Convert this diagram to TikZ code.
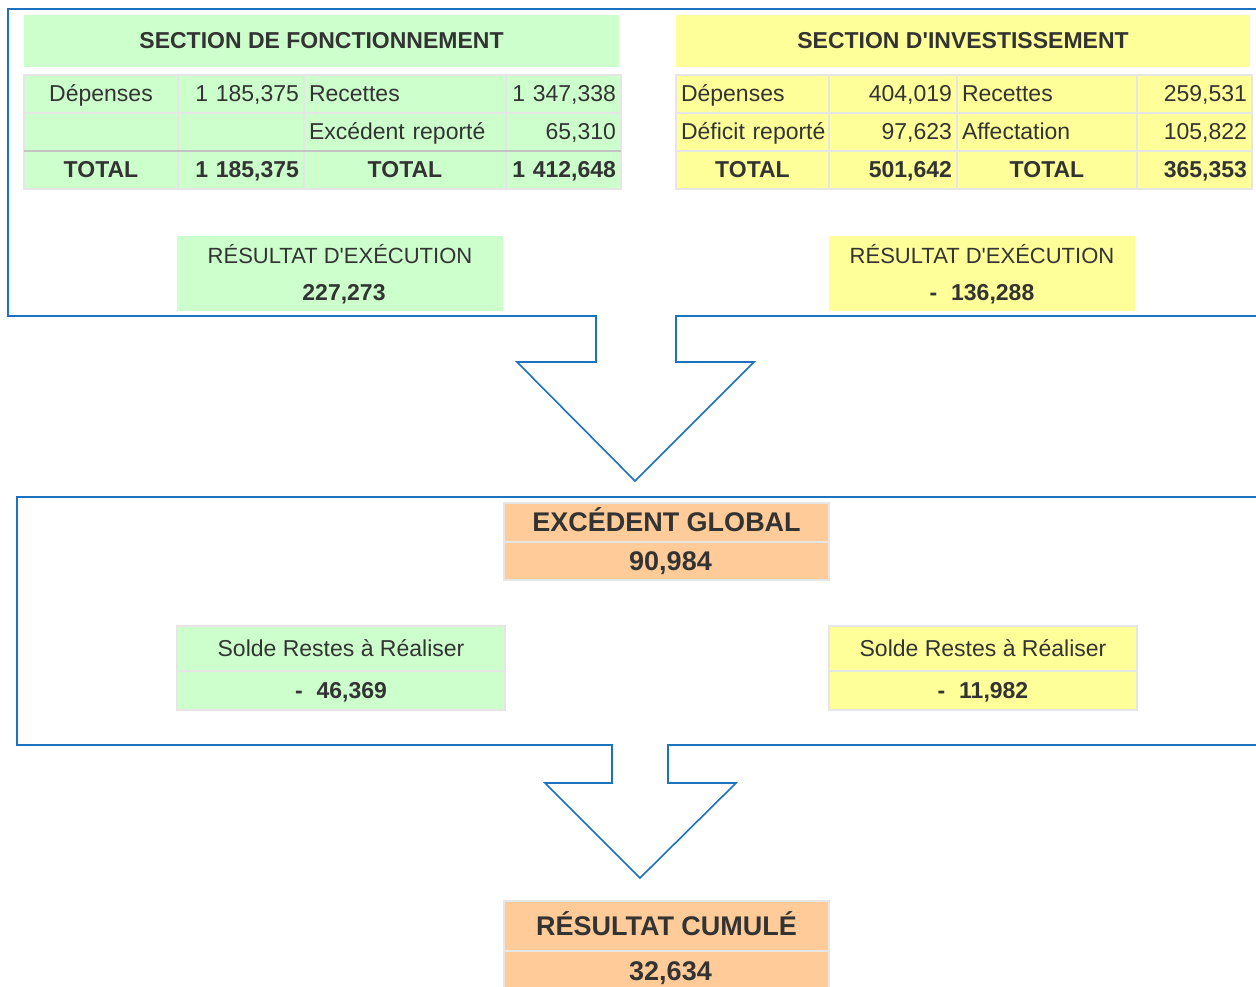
\documentclass[tikz,border=0pt]{standalone}
\usepackage{fontspec}
\setmainfont{Liberation Sans}
\newfontfamily\droit{Liberation Sans}
\usetikzlibrary{positioning}

\definecolor{vert}{HTML}{CCFFCC}
\definecolor{jaune}{HTML}{FFFF99}
\definecolor{peche}{HTML}{FFCC99}
\definecolor{bleu}{HTML}{1A72C0}
\definecolor{grille}{HTML}{E6E6E6}
\definecolor{grillefonce}{HTML}{C4C4C4}
\definecolor{encre}{HTML}{333333}

\begin{document}
\begin{tikzpicture}[x=1pt, y=-1pt,
    cell/.style = {draw=grille, line width=2pt, outer sep=0pt, inner xsep=5pt, inner ysep=0pt,
                   minimum height=38pt, text=encre, text height=18pt, text depth=2pt,
                   font=\fontsize{23}{27}\selectfont},
    bloc/.style = {outer sep=0pt, inner sep=0pt, text=encre, text height=18pt, text depth=2pt,
                   font=\fontsize{22}{26}\selectfont},
    gros/.style = {text height=20pt, text depth=2pt, font=\fontsize{27}{31}\selectfont\bfseries},
    gras/.style = {font=\fontsize{23}{27}\selectfont\bfseries},
    fleche/.style = {draw=bleu, line width=1.6pt}]
    \useasboundingbox (0,0) rectangle (1256,987);
    \clip (0,0) rectangle (1256,987);

    % fleches
    \draw[fleche] (1256,9) -- (8,9) -- (8,316) -- (596,316) -- (596,362) -- (517,362) -- (635,481)
        -- (754,362) -- (676,362) -- (676,316) -- (1256,316);
    \draw[fleche] (1256,497) -- (17,497) -- (17,745) -- (612,745) -- (612,783) -- (545,783) -- (640,878)
        -- (736,783) -- (668,783) -- (668,745) -- (1256,745);

    % section de fonctionnement
    \node[bloc, fill=vert, minimum width=595pt, minimum height=52pt, gras] (titreF) at (321.5,41) {SECTION DE FONCTIONNEMENT};
    \node[cell, fill=vert, anchor=north west, text width=144pt, align=center] (fa1) at (24,75) {Dépenses};
    \node[cell, fill=vert, text width=116pt, align=right, right=0pt of fa1] (fb1) {1 185,375};
    \node[cell, fill=vert, text width=192pt, align=left, right=0pt of fb1] (fc1) {Recettes};
    \node[cell, fill=vert, text width=105pt, align=right, right=0pt of fc1] (fd1) {1 347,338};
    \node[cell, fill=vert, text width=144pt, below=0pt of fa1] (fa2) {};
    \node[cell, fill=vert, text width=116pt, below=0pt of fb1] (fb2) {};
    \node[cell, fill=vert, text width=192pt, align=left, below=0pt of fc1] (fc2) {Excédent reporté};
    \node[cell, fill=vert, text width=105pt, align=right, below=0pt of fd1] (fd2) {65,310};
    \node[cell, fill=vert, text width=144pt, align=center, gras, below=0pt of fa2] (fa3) {TOTAL};
    \node[cell, fill=vert, text width=116pt, align=right, gras, below=0pt of fb2] (fb3) {1 185,375};
    \node[cell, fill=vert, text width=192pt, align=center, gras, below=0pt of fc2] (fc3) {TOTAL};
    \node[cell, fill=vert, text width=105pt, align=right, gras, below=0pt of fd2] (fd3) {1 412,648};
    \draw[draw=grillefonce, line width=2.5pt] (fa3.north west) -- (fd3.north east);

    % section d'investissement
    \node[bloc, fill=jaune, minimum width=574pt, minimum height=52pt, gras] (titreI) at (963,41) {SECTION D{\droit'}INVESTISSEMENT};
    \node[cell, fill=jaune, anchor=north west, text width=143pt, align=left] (ia1) at (676,75) {Dépenses};
    \node[cell, fill=jaune, text width=118pt, align=right, right=0pt of ia1] (ib1) {404,019};
    \node[cell, fill=jaune, text width=170pt, align=left, right=0pt of ib1] (ic1) {Recettes};
    \node[cell, fill=jaune, text width=105pt, align=right, right=0pt of ic1] (id1) {259,531};
    \node[cell, fill=jaune, text width=143pt, align=left, below=0pt of ia1] (ia2) {\mbox{Déficit reporté}};
    \node[cell, fill=jaune, text width=118pt, align=right, below=0pt of ib1] (ib2) {97,623};
    \node[cell, fill=jaune, text width=170pt, align=left, below=0pt of ic1] (ic2) {Affectation};
    \node[cell, fill=jaune, text width=105pt, align=right, below=0pt of id1] (id2) {105,822};
    \node[cell, fill=jaune, text width=143pt, align=center, gras, below=0pt of ia2] (ia3) {TOTAL};
    \node[cell, fill=jaune, text width=118pt, align=right, gras, below=0pt of ib2] (ib3) {501,642};
    \node[cell, fill=jaune, text width=170pt, align=center, gras, below=0pt of ic2] (ic3) {TOTAL};
    \node[cell, fill=jaune, text width=105pt, align=right, gras, below=0pt of id2] (id3) {365,353};

    % resultats d'execution
    \node[bloc, fill=vert, minimum width=326pt, minimum height=38pt] (resF) at (340,255) {RÉSULTAT D{\droit'}EXÉCUTION};
    \node[bloc, fill=vert, minimum width=326pt, minimum height=37pt, gras, below=0pt of resF] (resFv) {\hspace{8pt}227,273};
    \node[bloc, fill=jaune, minimum width=306pt, minimum height=38pt] (resI) at (982,255) {RÉSULTAT D{\droit'}EXÉCUTION};
    \node[bloc, fill=jaune, minimum width=306pt, minimum height=37pt, gras, below=0pt of resI] (resIv) {-\hspace{0.6em}136,288};

    % excedent global
    \node[cell, fill=peche, minimum width=325pt, minimum height=39pt, gros] (exc) at (666.5,522.5) {EXCÉDENT GLOBAL};
    \node[cell, fill=peche, minimum width=325pt, minimum height=38pt, gros, below=0pt of exc] (excv) {\hspace{8pt}90,984};

    % restes a realiser
    \node[cell, fill=vert, minimum width=328pt, minimum height=45pt] (rarF) at (341,648.5) {Solde Restes à Réaliser};
    \node[cell, fill=vert, minimum width=328pt, minimum height=39pt, gras, below=0pt of rarF] (rarFv) {-\hspace{0.6em}46,369};
    \node[cell, fill=jaune, minimum width=308pt, minimum height=45pt] (rarI) at (983,648.5) {Solde Restes à Réaliser};
    \node[cell, fill=jaune, minimum width=308pt, minimum height=39pt, gras, below=0pt of rarI] (rarIv) {-\hspace{0.6em}11,982};

    % resultat cumule
    \node[cell, fill=peche, minimum width=325pt, minimum height=50pt, gros] (cumul) at (666.5,926) {RÉSULTAT CUMULÉ};
    \node[cell, fill=peche, minimum width=325pt, minimum height=40pt, gros, below=0pt of cumul] (cumulv) {\hspace{8pt}32,634};
\end{tikzpicture}
\end{document}
